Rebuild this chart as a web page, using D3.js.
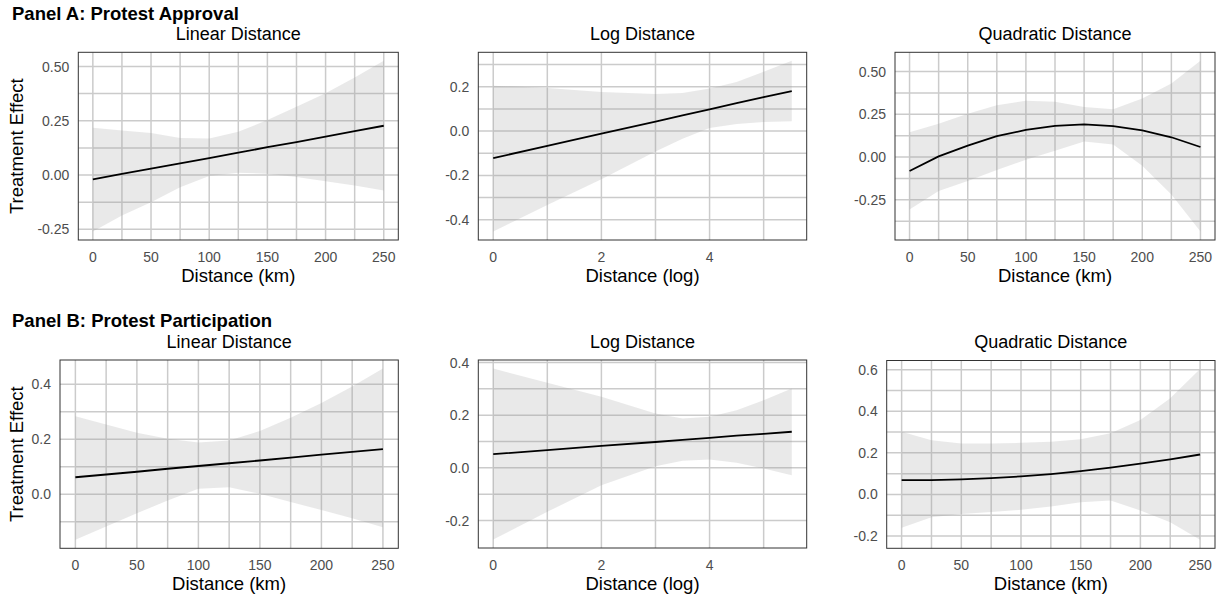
<!DOCTYPE html>
<html lang="en">
<head>
<meta charset="UTF-8" />
<title>Treatment Effect by Distance</title>
<script src="https://d3js.org/d3.v7.min.js"></script>
<style>
    body {
        margin: 0;
        background: #fff;
        font-family: "Liberation Sans", Arial, sans-serif;
    }
    .grid line {
        stroke: #cbcbcb;
        stroke-width: 1.5;
    }
    .ribbon {
        fill: #999;
        fill-opacity: 0.22;
    }
    .fit {
        fill: none;
        stroke: #000;
        stroke-width: 1.8;
    }
    .frame {
        fill: none;
        stroke: #333;
        stroke-width: 1;
    }
    .tick-label {
        fill: #4d4d4d;
        font-size: 14px;
    }
    .axis-title {
        fill: #000;
        font-size: 18.5px;
    }
    .sub-title {
        fill: #000;
        font-size: 18px;
    }
    .panel-title {
        fill: #000;
        font-size: 18.5px;
        font-weight: bold;
    }
</style>
</head>
<body>
<svg width="1221" height="599"></svg>
<script>
// distances at which the effects were evaluated
const distKm = [0, 25, 50, 75, 100, 125, 150, 175, 200, 225, 250];
const distLog = [0, 1, 2, 3, 3.5, 4, 4.5, 5, 5.52];

// Panel A: protest approval
const approvalLinearEst = [-0.020, 0.005, 0.029, 0.054, 0.078, 0.103, 0.128, 0.152, 0.177, 0.202, 0.227];
const approvalLinearLow = [-0.260, -0.187, -0.125, -0.056, -0.005, 0.011, 0.006, -0.009, -0.029, -0.048, -0.071];
const approvalLinearHigh = [0.218, 0.205, 0.194, 0.171, 0.168, 0.199, 0.253, 0.315, 0.377, 0.449, 0.526];

const approvalLogEst = [-0.122, -0.067, -0.012, 0.043, 0.071, 0.098, 0.126, 0.153, 0.180];
const approvalLogLow = [-0.453, -0.334, -0.217, -0.092, -0.035, 0.014, 0.032, 0.041, 0.044];
const approvalLogHigh = [0.205, 0.194, 0.176, 0.167, 0.172, 0.192, 0.222, 0.268, 0.317];

const approvalQuadEst = [-0.081, 0.004, 0.067, 0.122, 0.159, 0.183, 0.191, 0.181, 0.156, 0.116, 0.059];
const approvalQuadLow = [-0.307, -0.199, -0.140, -0.075, -0.016, 0.037, 0.091, 0.073, -0.051, -0.219, -0.435];
const approvalQuadHigh = [0.146, 0.195, 0.254, 0.303, 0.329, 0.323, 0.293, 0.280, 0.343, 0.431, 0.563];

// Panel B: protest participation
const partLinearEst = [0.062, 0.072, 0.082, 0.093, 0.103, 0.113, 0.123, 0.133, 0.144, 0.154, 0.164];
const partLinearLow = [-0.165, -0.117, -0.069, -0.022, 0.020, 0.026, 0.002, -0.028, -0.057, -0.087, -0.120];
const partLinearHigh = [0.284, 0.254, 0.224, 0.202, 0.188, 0.196, 0.230, 0.278, 0.332, 0.392, 0.457];

const partLogEst = [0.052, 0.067, 0.083, 0.098, 0.106, 0.114, 0.122, 0.129, 0.137];
const partLogLow = [-0.272, -0.167, -0.066, 0.006, 0.027, 0.032, 0.019, -0.003, -0.028];
const partLogHigh = [0.377, 0.323, 0.270, 0.206, 0.187, 0.194, 0.219, 0.257, 0.301];

const partQuadEst = [0.069, 0.069, 0.072, 0.078, 0.087, 0.098, 0.112, 0.129, 0.148, 0.169, 0.192];
const partQuadLow = [-0.160, -0.110, -0.094, -0.085, -0.074, -0.058, -0.037, -0.029, -0.077, -0.134, -0.218];
const partQuadHigh = [0.302, 0.261, 0.245, 0.245, 0.248, 0.253, 0.265, 0.294, 0.358, 0.463, 0.603];

// tick labels
const kmTicks = [0, 50, 100, 150, 200, 250];
const logTicks = [0, 2, 4];
const approvalWideTicks = [-0.25, 0, 0.25, 0.5];
const approvalLogTicks = [-0.4, -0.2, 0, 0.2];
const partLinearTicks = [0, 0.2, 0.4];
const partLogTicks = [-0.2, 0, 0.2, 0.4];
const partQuadTicks = [-0.2, 0, 0.2, 0.4, 0.6];

const fmt2 = (d) => d.toFixed(2);
const fmt1 = (d) => d.toFixed(1);
const fmt0 = (d) => String(d);

const panels = [
    { title: "Linear Distance", x: distKm, est: approvalLinearEst, low: approvalLinearLow, high: approvalLinearHigh,
      xTicks: kmTicks, yTicks: approvalWideTicks, yFmt: fmt2, xLabel: "Distance (km)",
      box: [78.3, 52.3, 398.3, 240], yTitle: true },
    { title: "Log Distance", x: distLog, est: approvalLogEst, low: approvalLogLow, high: approvalLogHigh,
      xTicks: logTicks, yTicks: approvalLogTicks, yFmt: fmt1, xLabel: "Distance (log)",
      box: [478.3, 52.3, 806.7, 240] },
    { title: "Quadratic Distance", x: distKm, est: approvalQuadEst, low: approvalQuadLow, high: approvalQuadHigh,
      xTicks: kmTicks, yTicks: approvalWideTicks, yFmt: fmt2, xLabel: "Distance (km)",
      box: [895, 52.3, 1215, 240] },
    { title: "Linear Distance", x: distKm, est: partLinearEst, low: partLinearLow, high: partLinearHigh,
      xTicks: kmTicks, yTicks: partLinearTicks, yFmt: fmt1, xLabel: "Distance (km)",
      box: [60, 360, 398.3, 548.3], yTitle: true },
    { title: "Log Distance", x: distLog, est: partLogEst, low: partLogLow, high: partLogHigh,
      xTicks: logTicks, yTicks: partLogTicks, yFmt: fmt1, xLabel: "Distance (log)",
      box: [478.3, 360, 806.7, 548] },
    { title: "Quadratic Distance", x: distKm, est: partQuadEst, low: partQuadLow, high: partQuadHigh,
      xTicks: kmTicks, yTicks: partQuadTicks, yFmt: fmt1, xLabel: "Distance (km)",
      box: [886.7, 360.5, 1215, 548.3] }
];

const svg = d3.select("svg");

svg.append("text").attr("class", "panel-title").attr("x", 12).attr("y", 19.5)
    .text("Panel A: Protest Approval");
svg.append("text").attr("class", "panel-title").attr("x", 12).attr("y", 327)
    .text("Panel B: Protest Participation");

// ggplot-like 5% expansion of a range
function expand(lo, hi) {
    const pad = (hi - lo) * 0.05;
    return [lo - pad, hi + pad];
}

// minor breaks halfway between majors, plus one step past each end
function minorTicks(ticks, domain) {
    const step = ticks[1] - ticks[0];
    const out = [];
    for (let v = ticks[0] - step / 2; v <= domain[1]; v += step) {
        if (v >= domain[0]) out.push(v);
    }
    return out;
}

panels.forEach((p) => {
    const [x0, y0, x1, y1] = p.box;
    const xs = d3.scaleLinear().domain(expand(d3.min(p.x), d3.max(p.x))).range([x0, x1]);
    const ys = d3.scaleLinear().domain(expand(d3.min(p.low), d3.max(p.high))).range([y1, y0]);
    const xDom = xs.domain();
    const yDom = ys.domain();

    const g = svg.append("g");

    // grid (skip lines that would sit on the frame)
    const grid = g.append("g").attr("class", "grid");
    const inside = (px, a, b) => px > Math.min(a, b) + 1.5 && px < Math.max(a, b) - 1.5;
    const xLines = minorTicks(p.xTicks, xDom).concat(p.xTicks).filter((v) => inside(xs(v), x0, x1));
    const yLines = minorTicks(p.yTicks, yDom).concat(p.yTicks).filter((v) => inside(ys(v), y0, y1));
    grid.selectAll(".vx").data(xLines).enter().append("line")
        .attr("x1", (d) => xs(d)).attr("x2", (d) => xs(d))
        .attr("y1", y0).attr("y2", y1);
    grid.selectAll(".hy").data(yLines).enter().append("line")
        .attr("y1", (d) => ys(d)).attr("y2", (d) => ys(d))
        .attr("x1", x0).attr("x2", x1);

    const rows = p.x.map((v, i) => ({ x: v, est: p.est[i], low: p.low[i], high: p.high[i] }));

    g.append("path").datum(rows).attr("class", "ribbon")
        .attr("d", d3.area().x((d) => xs(d.x)).y0((d) => ys(d.low)).y1((d) => ys(d.high)));

    g.append("path").datum(rows).attr("class", "fit")
        .attr("d", d3.line().x((d) => xs(d.x)).y((d) => ys(d.est)));

    g.append("rect").attr("class", "frame")
        .attr("x", x0).attr("y", y0).attr("width", x1 - x0).attr("height", y1 - y0);

    // tick labels
    g.selectAll(".xl").data(p.xTicks).enter().append("text")
        .attr("class", "tick-label").attr("text-anchor", "middle")
        .attr("x", (d) => xs(d)).attr("y", y1 + 21.5)
        .text(fmt0);
    g.selectAll(".yl").data(p.yTicks.filter((v) => v >= yDom[0] && v <= yDom[1])).enter().append("text")
        .attr("class", "tick-label").attr("text-anchor", "end")
        .attr("x", x0 - 9).attr("y", (d) => ys(d)).attr("dy", "0.36em")
        .text(p.yFmt);

    // titles
    g.append("text").attr("class", "sub-title").attr("text-anchor", "middle")
        .attr("x", (x0 + x1) / 2).attr("y", y0 - 12.5).text(p.title);
    g.append("text").attr("class", "axis-title").attr("text-anchor", "middle")
        .attr("x", (x0 + x1) / 2).attr("y", y1 + 41.5).text(p.xLabel);
    if (p.yTitle) {
        g.append("text").attr("class", "axis-title").attr("text-anchor", "middle")
            .attr("transform", `translate(23,${(y0 + y1) / 2}) rotate(-90)`)
            .text("Treatment Effect");
    }
});
</script>
</body>
</html>
